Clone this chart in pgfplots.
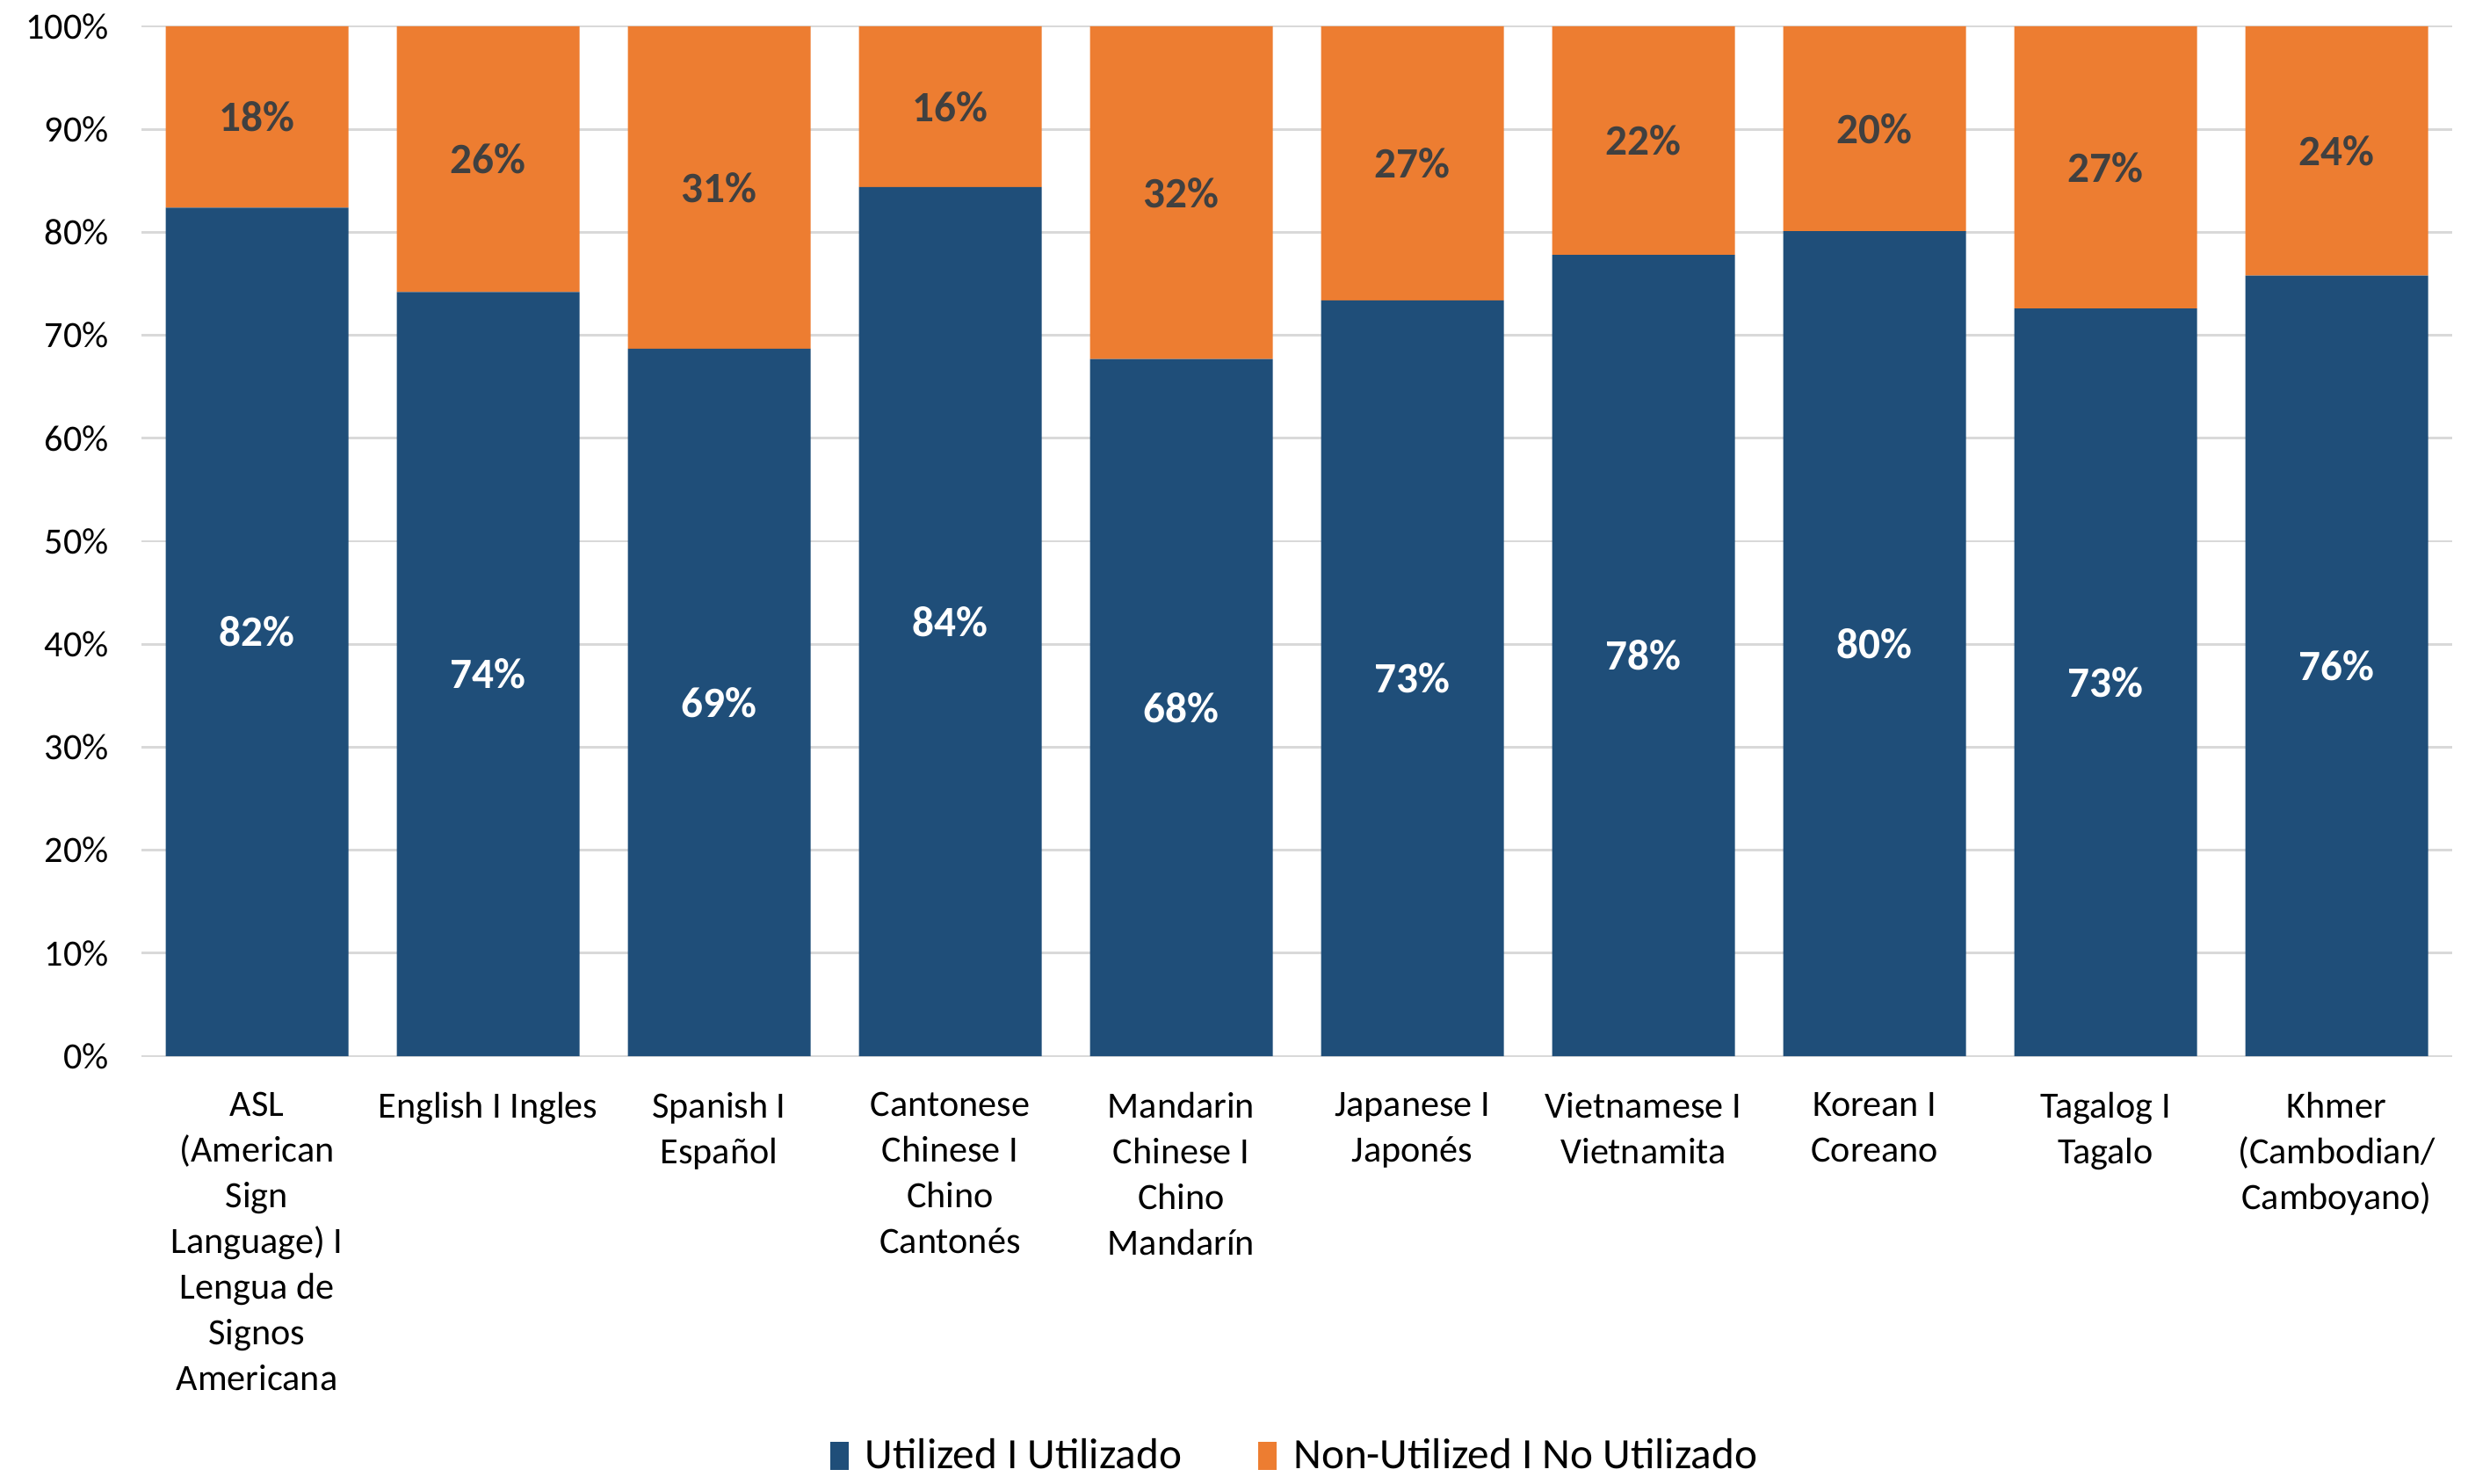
\documentclass[border=0pt]{standalone}
\usepackage{fontspec}
\setmainfont{Carlito}
\usepackage{pgfplots}
\pgfplotsset{compat=1.18}
\definecolor{cUtil}{HTML}{1F4E79}
\definecolor{cNon}{HTML}{ED7D31}
\definecolor{cGrid}{HTML}{D9D9D9}
\definecolor{cDark}{HTML}{404040}

\begin{document}
\begin{tikzpicture}
\begin{axis}[
  name=plot,
  ybar stacked, bar width=2.08cm,
  scale only axis, width=26.3cm, height=11.72cm,
  xmin=-0.5, xmax=9.5, ymin=0, ymax=100,
  xtick=data,
  xticklabels={
    {ASL\\(American\\Sign\\Language) I\\Lengua de\\Signos\\Americana},
    {English I Ingles},
    {Spanish I\\Español},
    {Cantonese\\Chinese I\\Chino\\Cantonés},
    {Mandarin\\Chinese I\\Chino\\Mandarín},
    {Japanese I\\Japonés},
    {Vietnamese I\\Vietnamita},
    {Korean I\\Coreano},
    {Tagalog I\\Tagalo},
    {Khmer\\(Cambodian/\\Camboyano)}},
  xticklabel style={align=center, font=\fontsize{12}{14.8}\selectfont, text=black, yshift=-0.29cm},
  ytick={0,10,...,100},
  yticklabel={\pgfmathprintnumber{\tick}\%},
  yticklabel style={font=\fontsize{12}{14}\selectfont, text=black, xshift=-0.25cm},
  /pgf/number format/assume math mode=true,
  major tick length=0pt,
  ymajorgrids, grid style={cGrid, line width=0.8pt},
  axis x line*=bottom, axis y line*=left,
  x axis line style={cGrid, line width=0.8pt, -},
  y axis line style={draw=none},
  legend style={at={(0.5,-0.388)}, anchor=center, draw=none, inner sep=1pt,
    legend columns=-1, font=\fontsize{14}{16}\selectfont,
    /tikz/every odd column/.append style={column sep=0.12cm},
    /tikz/every even column/.append style={column sep=0.8cm}},
  legend image code/.code={\fill[#1] (0cm,-0.16cm) rectangle (0.21cm,0.16cm);},
  point meta=explicit symbolic,
  nodes near coords,
  every node near coord/.append style={anchor=center,
    font=\fontsize{14}{16}\selectfont\bfseries},
]
\addplot[fill=cUtil, draw=none, nodes near coords style={text=white}] coordinates {
  (0,82.4) [82\%] (1,74.2) [74\%] (2,68.7) [69\%] (3,84.4) [84\%] (4,67.7) [68\%]
  (5,73.4) [73\%] (6,77.8) [78\%] (7,80.1) [80\%] (8,72.6) [73\%] (9,75.8) [76\%]};
\addlegendentry{Utilized I Utilizado}
\addplot[fill=cNon, draw=none, nodes near coords style={text=cDark}] coordinates {
  (0,17.6) [18\%] (1,25.8) [26\%] (2,31.3) [31\%] (3,15.6) [16\%] (4,32.3) [32\%]
  (5,26.6) [27\%] (6,22.2) [22\%] (7,19.9) [20\%] (8,27.4) [27\%] (9,24.2) [24\%]};
\addlegendentry{Non-Utilized I No Utilizado}
\end{axis}
\pgfresetboundingbox
\useasboundingbox ([xshift=-1.61cm,yshift=-4.86cm]plot.south west) rectangle ([xshift=0.18cm,yshift=0.30cm]plot.north east);
\end{tikzpicture}
\end{document}
